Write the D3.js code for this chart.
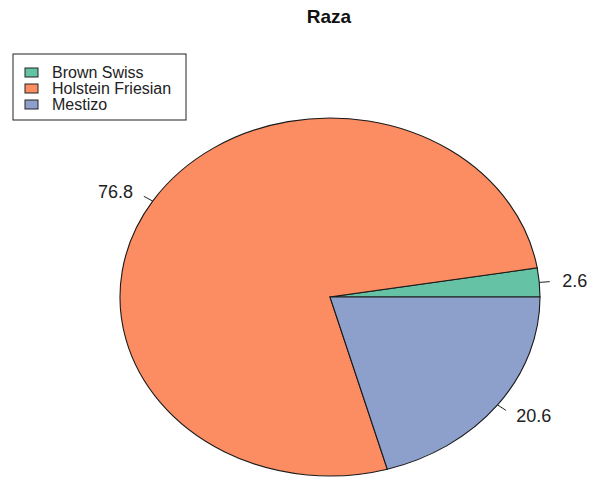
<!DOCTYPE html>
<html>
<head>
<meta charset="utf-8">
<script src="https://cdn.jsdelivr.net/npm/d3@7"></script>
<style>
  html, body { margin: 0; padding: 0; background: #ffffff; }
  svg { display: block; }
</style>
</head>
<body>
<svg id="chart" width="589" height="480"></svg>
<script>
const categories = ["Brown Swiss", "Holstein Friesian", "Mestizo"];
const values = [2.6, 76.8, 20.6];
const valueLabels = ["2.6", "76.8", "20.6"];
const colors = ["#66C2A5", "#FC8D62", "#8DA0CB"];
const title = "Raza";

const svg = d3.select("#chart");
const W = 589, H = 480;
svg.append("rect").attr("width", W).attr("height", H).attr("fill", "#fff");

const cx = 330, cy = 297, rx = 210, ry = 179;

// R-style pie: start at 3 o'clock, counter-clockwise
const pie = d3.pie().sort(null).value(d => d)
  .startAngle(Math.PI / 2).endAngle(Math.PI / 2 - 2 * Math.PI);
const arcs = pie(values);
const arc = d3.arc().innerRadius(0).outerRadius(rx);

const g = svg.append("g")
  .attr("transform", `translate(${cx},${cy}) scale(1,${ry / rx})`);

g.selectAll("path.slice").data(arcs).join("path")
  .attr("class", "slice")
  .attr("d", arc)
  .attr("fill", (d, i) => colors[i])
  .attr("stroke", "#1a1a1a")
  .attr("stroke-width", 1.1)
  .attr("vector-effect", "non-scaling-stroke");

function pt(angle, k) {
  return [cx + rx * k * Math.sin(angle), cy - ry * k * Math.cos(angle)];
}

arcs.forEach((d, i) => {
  const mid = (d.startAngle + d.endAngle) / 2;
  const p1 = pt(mid, 1.0), p2 = pt(mid, 1.05), p3 = pt(mid, 1.1);
  svg.append("line")
    .attr("x1", p1[0]).attr("y1", p1[1])
    .attr("x2", p2[0]).attr("y2", p2[1])
    .attr("stroke", "#222").attr("stroke-width", 1);
  svg.append("text")
    .attr("x", p3[0] + (Math.sin(mid) >= 0 ? 2 : -2))
    .attr("y", p3[1])
    .attr("dy", "0.35em")
    .attr("text-anchor", Math.sin(mid) >= 0 ? "start" : "end")
    .attr("font-family", "Liberation Sans, Arial, sans-serif")
    .attr("font-size", 18)
    .attr("fill", "#222")
    .text(valueLabels[i]);
});

// Title
svg.append("text")
  .attr("x", 329).attr("y", 23)
  .attr("text-anchor", "middle")
  .attr("font-family", "Liberation Sans, Arial, sans-serif")
  .attr("font-weight", "bold")
  .attr("font-size", 19)
  .attr("fill", "#111")
  .text(title);

// Legend
const lg = svg.append("g");
lg.append("rect")
  .attr("x", 13).attr("y", 54).attr("width", 173).attr("height", 66)
  .attr("fill", "#fff").attr("stroke", "#222").attr("stroke-width", 1);
categories.forEach((c, i) => {
  const yb = 78 + i * 16;
  lg.append("rect")
    .attr("x", 25).attr("y", yb - 10).attr("width", 13).attr("height", 9)
    .attr("fill", colors[i]).attr("stroke", "#222").attr("stroke-width", 1);
  lg.append("text")
    .attr("x", 52).attr("y", yb)
    .attr("font-family", "Liberation Sans, Arial, sans-serif")
    .attr("font-size", 16)
    .attr("fill", "#222")
    .text(c);
});
</script>
</body>
</html>
